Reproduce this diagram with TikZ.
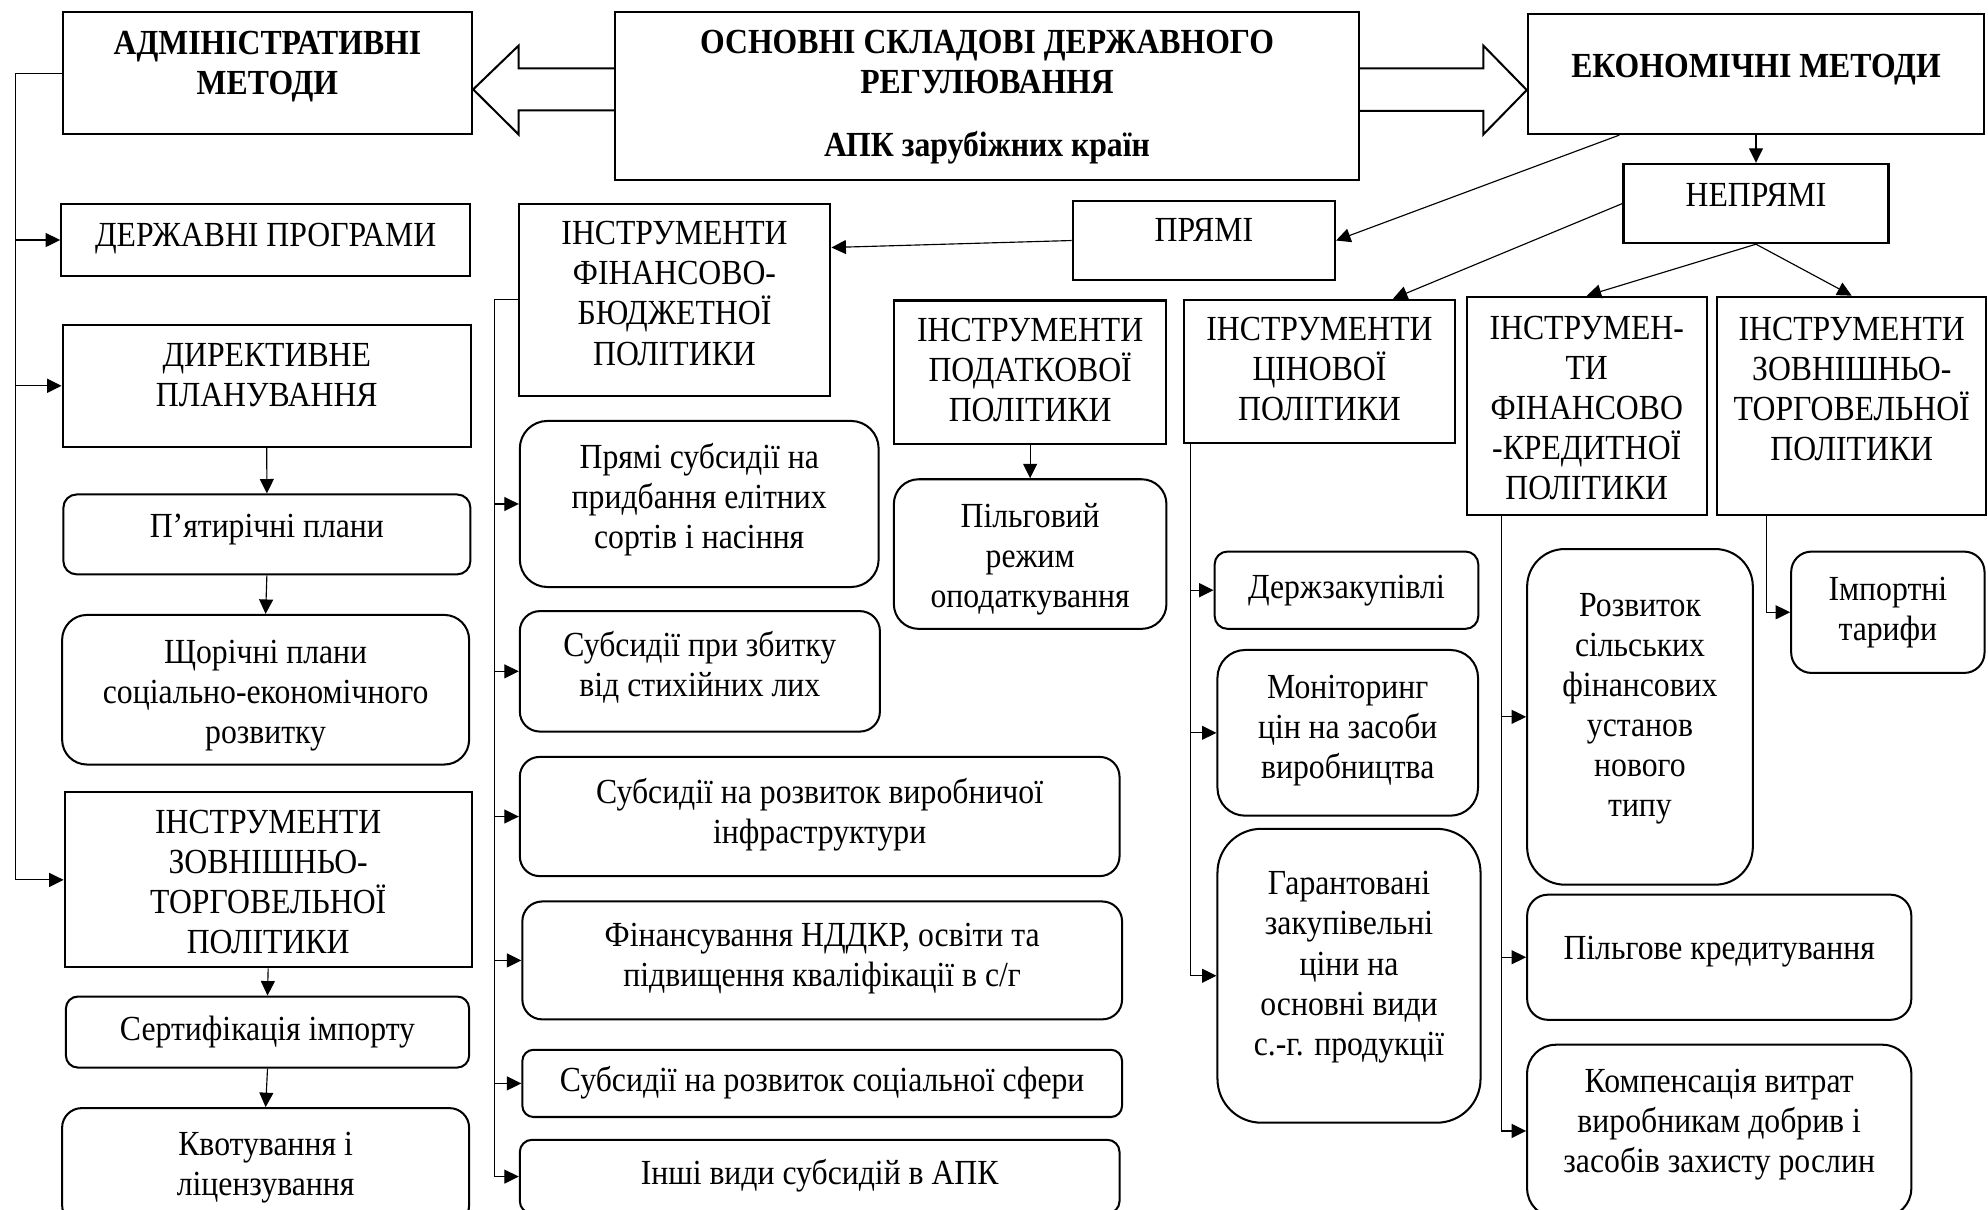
\documentclass[tikz,border=0pt]{standalone}
\usepackage{fontspec}
\setmainfont[FakeStretch=0.9]{Liberation Serif}
\usetikzlibrary{arrows.meta,calc}
\newcommand\boxfont{\fontsize{13.9}{15.8}\selectfont}
\newcommand\topgap[1]{\rule{0pt}{#1}}
\begin{document}
\begin{tikzpicture}[x=0.5pt,y=-0.5pt,
    box/.style={draw,line width=0.8pt,align=center,inner sep=0pt,font=\boxfont,
      execute at begin node=\strut,execute at end node=\strut},
    rbox/.style={box,rounded corners=#1},
    bold/.style={font=\boxfont\bfseries},
    lift/.style={execute at end node={\rule[-#1]{0pt}{#1}}},
    sz/.style 2 args={minimum width=#1*0.5pt,minimum height=#2*0.5pt},
    conn/.style={line width=0.45pt},
    arr/.style={conn,-{Triangle[length=5.7pt,width=5.5pt]}},
    fat/.style={line width=0.8pt}]
    \useasboundingbox (0,0) rectangle (1568,954);

    \node[box,bold,sz={323}{96},lift=8.2pt] (adm) at (210.9,57.7) {АДМІНІСТРАТИВНІ\\МЕТОДИ};
    \node[box,bold,sz={587}{132.5}] (main) at (778.5,75.5) {\topgap{12.2pt}ОСНОВНІ СКЛАДОВІ ДЕРЖАВНОГО\\РЕГУЛЮВАННЯ\\[9pt]АПК зарубіжних країн};
    \node[box,bold,sz={360}{94.5},lift=8.7pt] (econ) at (1385,58.5) {ЕКОНОМІЧНІ МЕТОДИ};

    \node[box,sz={322.5}{57},lift=6.2pt] (dp) at (209.5,189.3) {ДЕРЖАВНІ ПРОГРАМИ};
    \node[box,sz={322}{96},lift=8.5pt] (dir) at (210.4,304.3) {ДИРЕКТИВНЕ\\ПЛАНУВАННЯ};
    \node[rbox=5.2pt,sz={321}{63},lift=8.7pt] (p5) at (210.5,421.5) {П’ятирічні плани};
    \node[rbox=9.8pt,sz={321}{118}] (sch) at (209.5,544) {\topgap{15.5pt}Щорічні плани\\соціально-економічного\\розвитку};
    \node[box,sz={321}{138}] (zt1) at (211.5,694) {\topgap{15.2pt}ІНСТРУМЕНТИ\\ЗОВНІШНЬО-\\ТОРГОВЕЛЬНОЇ\\ПОЛІТИКИ};
    \node[rbox=4.7pt,sz={318}{56}] (sert) at (211,814) {Сертифікація імпорту};
    \node[rbox=7.7pt,sz={321}{92}] (kvot) at (209.5,920) {\topgap{12pt}Квотування і\\ліцензування};

    \node[box,sz={246}{151},lift=5.2pt] (fb) at (532,236.5) {ІНСТРУМЕНТИ\\ФІНАНСОВО-\\БЮДЖЕТНОЇ\\ПОЛІТИКИ};
    \node[rbox=10.9pt,sz={283}{131},lift=6.7pt] (s1) at (551.5,397.5) {Прямі субсидії на\\придбання елітних\\сортів і насіння};
    \node[rbox=7.9pt,sz={284}{95},lift=5.7pt] (s2) at (552,529.5) {Субсидії при збитку\\від стихійних лих};
    \node[rbox=7.8pt,sz={473}{94}] (s3) at (646.5,644) {Субсидії на розвиток виробничої\\інфраструктури};
    \node[rbox=7.8pt,sz={473}{93}] (s4) at (648.5,757.5) {Фінансування НДДКР, освіти та\\підвищення кваліфікації в с/г};
    \node[rbox=4.4pt,sz={473}{53}] (s5) at (648.5,854.5) {\topgap{11.5pt}Субсидії на розвиток соціальної сфери};
    \node[rbox=4.8pt,sz={473}{58}] (s6) at (646.5,928) {Інші види субсидій в АПК};

    \node[box,sz={207}{62.5},lift=9.9pt] (pr) at (949.5,189.7) {ПРЯМІ};
    \node[box,sz={209}{62.6},lift=8.7pt] (np) at (1385,160.5) {НЕПРЯМІ};

    \node[box,sz={215}{113}] (pod) at (812.5,293.5) {\topgap{12.2pt}ІНСТРУМЕНТИ\\ПОДАТКОВОЇ\\ПОЛІТИКИ};
    \node[rbox=9.8pt,sz={215}{118}] (pil) at (812.5,437) {\topgap{15.5pt}Пільговий\\режим\\оподаткування};
    \node[box,sz={213.5}{113}] (zin) at (1040.7,292.9) {\topgap{12.2pt}ІНСТРУМЕНТИ\\ЦІНОВОЇ\\ПОЛІТИКИ};
    \node[rbox=5.1pt,sz={208}{61}] (dz) at (1062,465.5) {Держзакупівлі};
    \node[rbox=10.9pt,sz={205.5}{130.7}] (mon) at (1063,578) {Моніторинг\\цін на засоби\\виробництва};
    \node[rbox=17.3pt,sz={207.5}{231.8},lift=9.8pt] (gar) at (1064,769.6) {Гарантовані\\закупівельні\\ціни на\\основні види\\с.-г. продукції};
    \node[box,sz={189}{172.5}] (fk) at (1251.5,320.3) {\topgap{15.2pt}ІНСТРУМЕН-\\ТИ\\ФІНАНСОВО\\-КРЕДИТНОЇ\\ПОЛІТИКИ};
    \node[rbox=14.8pt,sz={178}{264.7},lift=9.6pt] (rsf) at (1293.5,565.4) {Розвиток\\сільських\\фінансових\\установ\\нового\\типу};
    \node[rbox=8.2pt,sz={303}{98.7},lift=9.4pt] (pk) at (1356,755) {Пільгове кредитування};
    \node[rbox=11.3pt,sz={303}{136},lift=7.8pt] (kv) at (1356,892) {Компенсація витрат\\виробникам добрив і\\засобів захисту рослин};
    \node[box,sz={212.5}{172},lift=13.2pt] (zt2) at (1460.5,320) {ІНСТРУМЕНТИ\\ЗОВНІШНЬО-\\ТОРГОВЕЛЬНОЇ\\ПОЛІТИКИ};
    \node[rbox=8pt,sz={152.5}{95.7}] (it) at (1489,482.9) {\topgap{11.2pt}Імпортні\\тарифи};

    \draw[fat] (main.west |- 0,54) -- (409,54) -- (409,36) -- (adm.east |- 0,70.5) -- (409,106) -- (409,87) -- (main.west |- 0,87);
    \draw[fat] (main.east |- 0,54) -- (1170,54) -- (1170,36) -- (econ.west |- 0,71) -- (1170,106) -- (1170,87.5) -- (main.east |- 0,87.5);

    \draw[arr] (adm.west) -- (adm.west -| 12,0) coordinate (lb) |- (zt1.west);
    \draw[arr] (lb |- dp.west) -- (dp.west);
    \draw[arr] (lb |- dir.west) -- (dir.west);
    \draw[arr] (dir.south) -- (p5.north);
    \draw[arr] (p5.south) -- (sch.north);
    \draw[arr] (zt1.south) -- (sert.north);
    \draw[arr] (sert.south) -- (kvot.north);

    \draw[arr] (fb.west) -- (fb.west -| 390,0) coordinate (mb) |- (s6.west);
    \draw[arr] (mb |- s1.west) -- (s1.west);
    \draw[arr] (mb |- s2.west) -- (s2.west);
    \draw[arr] (mb |- s3.west) -- (s3.west);
    \draw[arr] (mb |- s4.west) -- (s4.west);
    \draw[arr] (mb |- s5.west) -- (s5.west);

    \draw[arr] ($(econ.south west)+(73,0)$) -- (pr.east);
    \draw[arr] (pr.west) -- ($(fb.north east)+(0,35)$);
    \draw[arr] (econ.south) -- (np.north);
    \draw[arr] (np.west) -- ($(zin.north)+(58,0)$);
    \draw[arr] (np.south) -- (fk.north);
    \draw[arr] (np.south) -- (zt2.north);
    \draw[arr] (pod.south) -- (pil.north);

    \draw[arr] ($(zin.south west)+(5.5,0)$) coordinate (zb) |- (gar.west);
    \draw[arr] (zb |- dz.west) -- (dz.west);
    \draw[arr] (zb |- mon.west) -- (mon.west);
    \draw[arr] ($(fk.south west)+(28,0)$) coordinate (kb) |- (kv.west);
    \draw[arr] (kb |- rsf.west) -- (rsf.west);
    \draw[arr] (kb |- pk.west) -- (pk.west);
    \draw[arr] ($(zt2.south west)+(40,0)$) |- (it.west);
\end{tikzpicture}
\end{document}
